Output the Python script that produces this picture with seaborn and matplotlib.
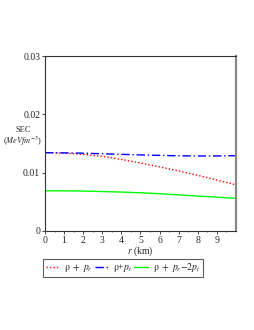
import numpy as np
import pandas as pd
import matplotlib
matplotlib.use('Agg')
import matplotlib.pyplot as plt
import seaborn as sns

# radius (km) and SEC curves
r = [0, 1, 2, 3, 4, 5, 6, 7, 8, 9, 10]
rho_pr = [0.01343, 0.01336, 0.01315, 0.01282, 0.01228, 0.01165, 0.01100, 0.01030, 0.00955, 0.00875, 0.00792]
rho_pt = [0.01343, 0.01340, 0.01335, 0.01325, 0.01315, 0.01305, 0.01297, 0.01290, 0.01287, 0.01288, 0.01292]
rho_pr_2pt = [0.00690, 0.00690, 0.00685, 0.00677, 0.00668, 0.00655, 0.00640, 0.00620, 0.00600, 0.00580, 0.00560]

labels = [r'$\mathrm{\rho}\ +\ p_r$', r'$\mathrm{\rho}$+$p_t$', r'$\mathrm{\rho}\ +\ p_r$$-2p_t$']
colors = ['#ff0000', '#0000ff', '#00ff00']
styles = [(0, (1, 1.5)), (0, (6, 2, 1, 2)), '-']
xticks = [0, 1, 2, 3, 4, 5, 6, 7, 8, 9]
yticks = [0, 0.01, 0.02, 0.03]

sns.set_style('white')
plt.rcParams['font.family'] = ['Liberation Serif', 'DejaVu Serif']
plt.rcParams['mathtext.fontset'] = 'stix'

fig = plt.figure(figsize=(2.55, 3.3), dpi=100)
ax = fig.add_axes([0.1765, 0.30, 0.7485, 0.53])

for vals, lab, c, ls in zip([rho_pr, rho_pt, rho_pr_2pt], labels, colors, styles):
    sns.lineplot(x=r, y=vals, ax=ax, color=c, linestyle=ls, linewidth=1.0, label=lab)

ax.set_xlim(0, 10)
ax.set_ylim(0, 0.03)
ax.set_xticks(xticks)
ax.set_yticks(yticks)
ax.set_xticklabels([str(t) for t in xticks], fontsize=7)
ax.set_yticklabels(['0', '0.01', '0.02', '0.03'], fontsize=7)
ax.tick_params(axis='both', direction='out', length=2, width=0.6, pad=1.5, bottom=True, left=True)
ax.set_xticks(np.arange(0, 10, 0.5), minor=True)
ax.tick_params(axis='x', which='minor', direction='out', length=1, width=0.5, bottom=True)

for side in ['top', 'left', 'bottom']:
    ax.spines[side].set_color('#333333')
    ax.spines[side].set_linewidth(0.8)
ax.spines['right'].set_color('#888888')
ax.spines['right'].set_linewidth(1.6)

ax.set_xlabel(r'$r$ (km)', fontsize=7, labelpad=0)
fig.text(23 / 255, 1 - 137 / 330, 'SEC\n' + r'($MeVfm^{-3}$)',
         ha='center', va='center', fontsize=6, linespacing=1.0, multialignment='center')

leg = ax.legend(loc='upper left', bbox_to_anchor=(-0.01, -0.16), ncol=3, fontsize=7,
                handlelength=1.4, handletextpad=0.5, columnspacing=0.2,
                borderpad=0.25, frameon=True, fancybox=False, borderaxespad=0)
leg.get_frame().set_edgecolor('#333333')
leg.get_frame().set_linewidth(0.8)

plt.savefig('out.png', dpi=100)
